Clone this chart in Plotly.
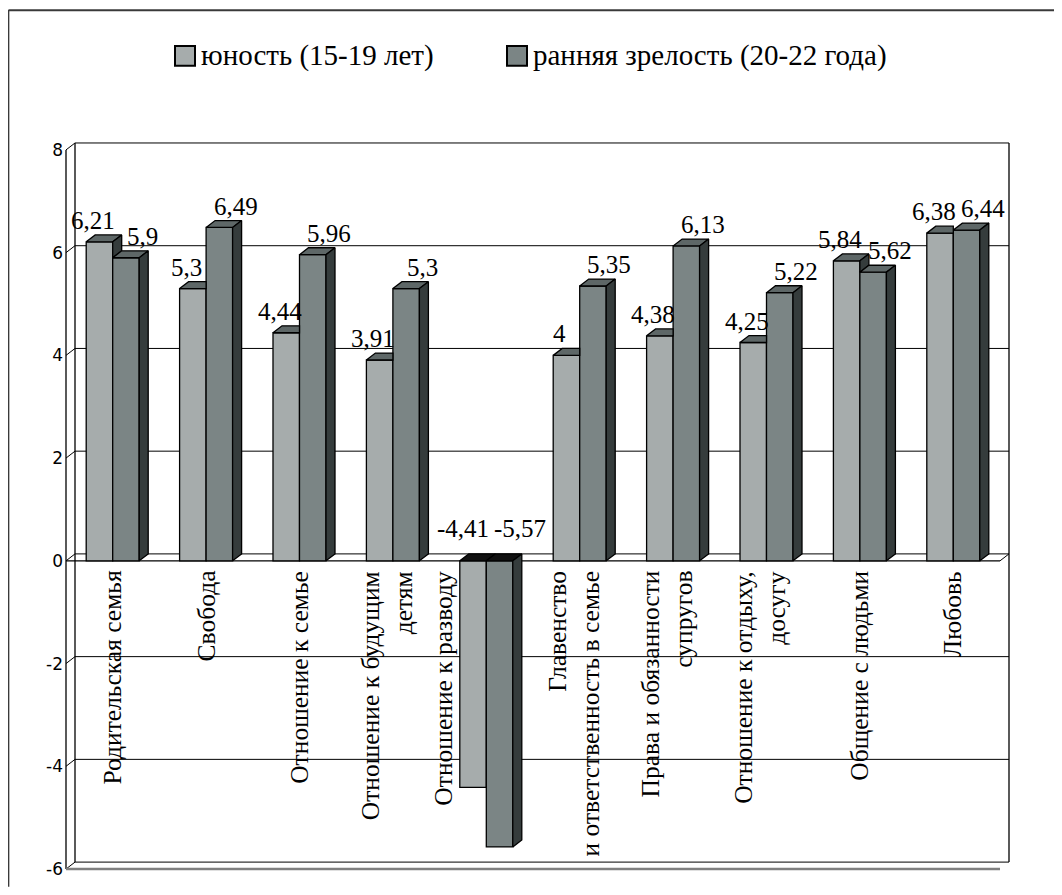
import plotly.graph_objects as go

# ---------------- data ----------------
categories = [
    "Родительская семья",
    "Свобода",
    "Отношение к семье",
    "Отношение к будущим<br>детям",
    "Отношение к разводу",
    "Главенство<br>и ответственность в семье",
    "Права и обязанности<br>супругов",
    "Отношение к отдыху,<br>досугу",
    "Общение с людьми",
    "Любовь",
]
series_names = ["юность (15-19 лет)", "ранняя зрелость (20-22 года)"]
youth = [6.21, 5.3, 4.44, 3.91, -4.41, 4, 4.38, 4.25, 5.84, 6.38]
early = [5.9, 6.49, 5.96, 5.3, -5.57, 5.35, 6.13, 5.22, 5.62, 6.44]
y_ticks = [8, 6, 4, 2, 0, -2, -4, -6]
y_tick_text = ["8", "6", "4", "2", "0", "-2", "-4", "-6"]

# ---------------- style / geometry (page pixels) ----------------
W, H = 1062, 895
OFF = 8                  # default body margin of the page
FW, FH = W - 2 * OFF, H - 2 * OFF
FX0, FX1 = 66, 1000      # page pixel of x=-0.5 and x=n-0.5 (front plane)
FY0, FY1 = 877, 150      # page pixel of y=min tick and y=max tick (front plane)
DPX, DPY = 9, 7          # 3D depth in pixels
PAD = 2
n = len(categories)
ymin, ymax = min(y_ticks), max(y_ticks)
ux = (FX1 - FX0) / n
uy = (FY0 - FY1) / (ymax - ymin)
dx = DPX / ux
dy = DPY / uy
bw = 26.5 / ux           # bar width in data units

C_FRONT = ["#A6ACAC", "#7B8585"]
C_TOP = "#5E6767"
C_SIDE = "#353C3C"
C_NEG_TOP = "#111111"
SERIF = "Liberation Serif"
LW = 1.3

fig = go.Figure()
xs = list(range(n))
vals = [youth, early]
offsets = [-bw, 0.0]

for s in range(2):
    fig.add_trace(go.Bar(
        x=xs, y=vals[s], width=bw, offset=offsets[s],
        name=series_names[s], showlegend=False,
        marker=dict(color=C_FRONT[s], line=dict(color="black", width=LW)),
        hoverinfo="skip",
    ))


def poly_trace(polys, color):
    px, py = [], []
    for p in polys:
        for (a, b) in p:
            px.append(a)
            py.append(b)
        px.append(p[0][0])
        py.append(p[0][1])
        px.append(None)
        py.append(None)
    return go.Scatter(x=px, y=py, mode="lines", fill="toself", fillcolor=color,
                      line=dict(color="black", width=LW), showlegend=False,
                      hoverinfo="skip")


for s in range(2):
    tops_pos, tops_neg, sides = [], [], []
    for i in xs:
        v = vals[s][i]
        x0 = i + offsets[s]
        x1 = x0 + bw
        t = max(v, 0)
        if s == 0 and vals[1][i] > t:
            top = [(x0, t), (x0 + dx, t + dy), (x1, t + dy), (x1, t)]
        else:
            top = [(x0, t), (x0 + dx, t + dy), (x1 + dx, t + dy), (x1, t)]
        (tops_pos if v >= 0 else tops_neg).append(top)
        if s == 1:
            lo, hi = min(v, 0), max(v, 0)
            sides.append([(x1, lo), (x1, hi), (x1 + dx, hi + dy), (x1 + dx, lo + dy)])
        else:
            o = vals[1][i]
            if v >= 0 and o >= 0 and v > o:
                sides.append([(x1, o), (x1, v), (x1 + dx, v + dy), (x1 + dx, o + dy)])
    if tops_pos:
        fig.add_trace(poly_trace(tops_pos, C_TOP))
    if tops_neg:
        fig.add_trace(poly_trace(tops_neg, C_NEG_TOP))
    if sides:
        fig.add_trace(poly_trace(sides, C_SIDE))

# ---------------- axis geometry in figure pixels ----------------
xr = [-0.5 - PAD / ux, n - 0.5 + dx + PAD / ux]
yr = [ymin - PAD / uy, ymax + dy + PAD / uy]
ml = FX0 - PAD - OFF
mr = FW - (FX1 + DPX + PAD - OFF)
mt = (FY1 - DPY) - PAD - OFF
mb = FH - (FY0 + PAD - OFF)
plot_w = FW - ml - mr
plot_h = FH - mt - mb


def paper_x(page_px):
    return (page_px - OFF - ml) / plot_w


def paper_y(page_px):
    return (FH - mb - (page_px - OFF)) / plot_h


# ---------------- value labels ----------------
def fmt(v):
    return f"{v:g}".replace(".", ",")


annotations = []
for s in range(2):
    for i in xs:
        v = vals[s][i]
        x0 = i + offsets[s]
        xc = x0 + bw / 2 + dx / 2
        if v >= 0:
            xsh = [-11, 12][s]
            ysh = -1
        else:
            xsh = [-15, 16][s]
            ysh = 10
        annotations.append(dict(
            x=xc, y=max(v, 0) + dy, xref="x", yref="y",
            text=fmt(v), showarrow=False, xanchor="center", yanchor="bottom",
            xshift=xsh, yshift=ysh,
            font=dict(family=SERIF, size=25, color="black"),
        ))

# ---------------- category labels ----------------
for i, c in enumerate(categories):
    shift = -43 if max(youth[i], early[i]) < 0 else (-6 if "<br>" in c else 0)
    annotations.append(dict(
        x=i, y=0, xref="x", yref="y", text=c, showarrow=False,
        textangle=-90, xanchor="center", yanchor="top", align="right",
        xshift=shift, yshift=-8,
        font=dict(family=SERIF, size=25.5, color="black"),
    ))

# ---------------- walls / grid ----------------
shapes = []
bx0, bx1 = -0.5 + dx, n - 0.5 + dx
for t in y_ticks:
    shapes.append(dict(type="line", xref="x", yref="y", x0=bx0, x1=bx1, y0=t + dy, y1=t + dy,
                       line=dict(color="black", width=1), layer="below"))
    shapes.append(dict(type="line", xref="x", yref="y", x0=-0.5, x1=bx0, y0=t, y1=t + dy,
                       line=dict(color="black", width=1), layer="below"))
for xv in (bx0, bx1):
    shapes.append(dict(type="line", xref="x", yref="y", x0=xv, x1=xv, y0=ymin + dy, y1=ymax + dy,
                       line=dict(color="black", width=1.3), layer="below"))
shapes.append(dict(type="line", xref="x", yref="y", x0=-0.5, x1=-0.5, y0=ymin, y1=ymax,
                   line=dict(color="black", width=1.3), layer="below"))
shapes.append(dict(type="line", xref="x", yref="y", x0=-0.5, x1=n - 0.5, y0=0, y1=0,
                   line=dict(color="black", width=1.3), layer="below"))
shapes.append(dict(type="line", xref="x", yref="y", x0=n - 0.5, x1=bx1, y0=0, y1=dy,
                   line=dict(color="black", width=1), layer="below"))
shapes.append(dict(type="line", xref="x", yref="y", x0=-0.5, x1=n - 0.5, y0=ymin, y1=ymin,
                   line=dict(color="#808080", width=2.5), layer="below"))

# outer frame (top and left edges)
shapes.append(dict(type="line", xref="paper", yref="paper",
                   x0=paper_x(OFF + 0.5), x1=paper_x(W), y0=paper_y(OFF + 0.8), y1=paper_y(OFF + 0.8),
                   line=dict(color="#3a3a3a", width=2)))
shapes.append(dict(type="line", xref="paper", yref="paper",
                   x0=paper_x(OFF + 0.6), x1=paper_x(OFF + 0.6), y0=paper_y(OFF + 0.5), y1=paper_y(H),
                   line=dict(color="#3a3a3a", width=1.5)))

# ---------------- legend (drawn) ----------------
LEG_Y = 55
leg_sq = [175, 507]
leg_txt = [199, 531]
SQ = 20
for s in range(2):
    shapes.append(dict(type="rect", xref="paper", yref="paper",
                       x0=paper_x(leg_sq[s]), x1=paper_x(leg_sq[s] + SQ),
                       y0=paper_y(LEG_Y - SQ / 2), y1=paper_y(LEG_Y + SQ / 2),
                       fillcolor=C_FRONT[s], line=dict(color="black", width=2)))
    annotations.append(dict(
        x=paper_x(leg_txt[s]), y=paper_y(LEG_Y), xref="paper", yref="paper",
        text=series_names[s], showarrow=False, xanchor="left", yanchor="middle",
        font=dict(family=SERIF, size=29, color="black"),
    ))

fig.update_layout(
    width=FW, height=FH,
    margin=dict(l=ml, r=mr, t=mt, b=mb, pad=0),
    paper_bgcolor="white", plot_bgcolor="rgba(0,0,0,0)",
    barmode="overlay",
    showlegend=False,
    xaxis=dict(range=xr, showgrid=False, zeroline=False, showline=False,
               showticklabels=False, ticks="", fixedrange=True),
    yaxis=dict(range=yr, showgrid=False, zeroline=False, showline=False,
               tickmode="array", tickvals=y_ticks, ticktext=y_tick_text,
               ticks="", tickfont=dict(family="DejaVu Sans", size=17, color="black"),
               fixedrange=True),
    shapes=shapes,
    annotations=annotations,
)

fig.write_html("out.html")
